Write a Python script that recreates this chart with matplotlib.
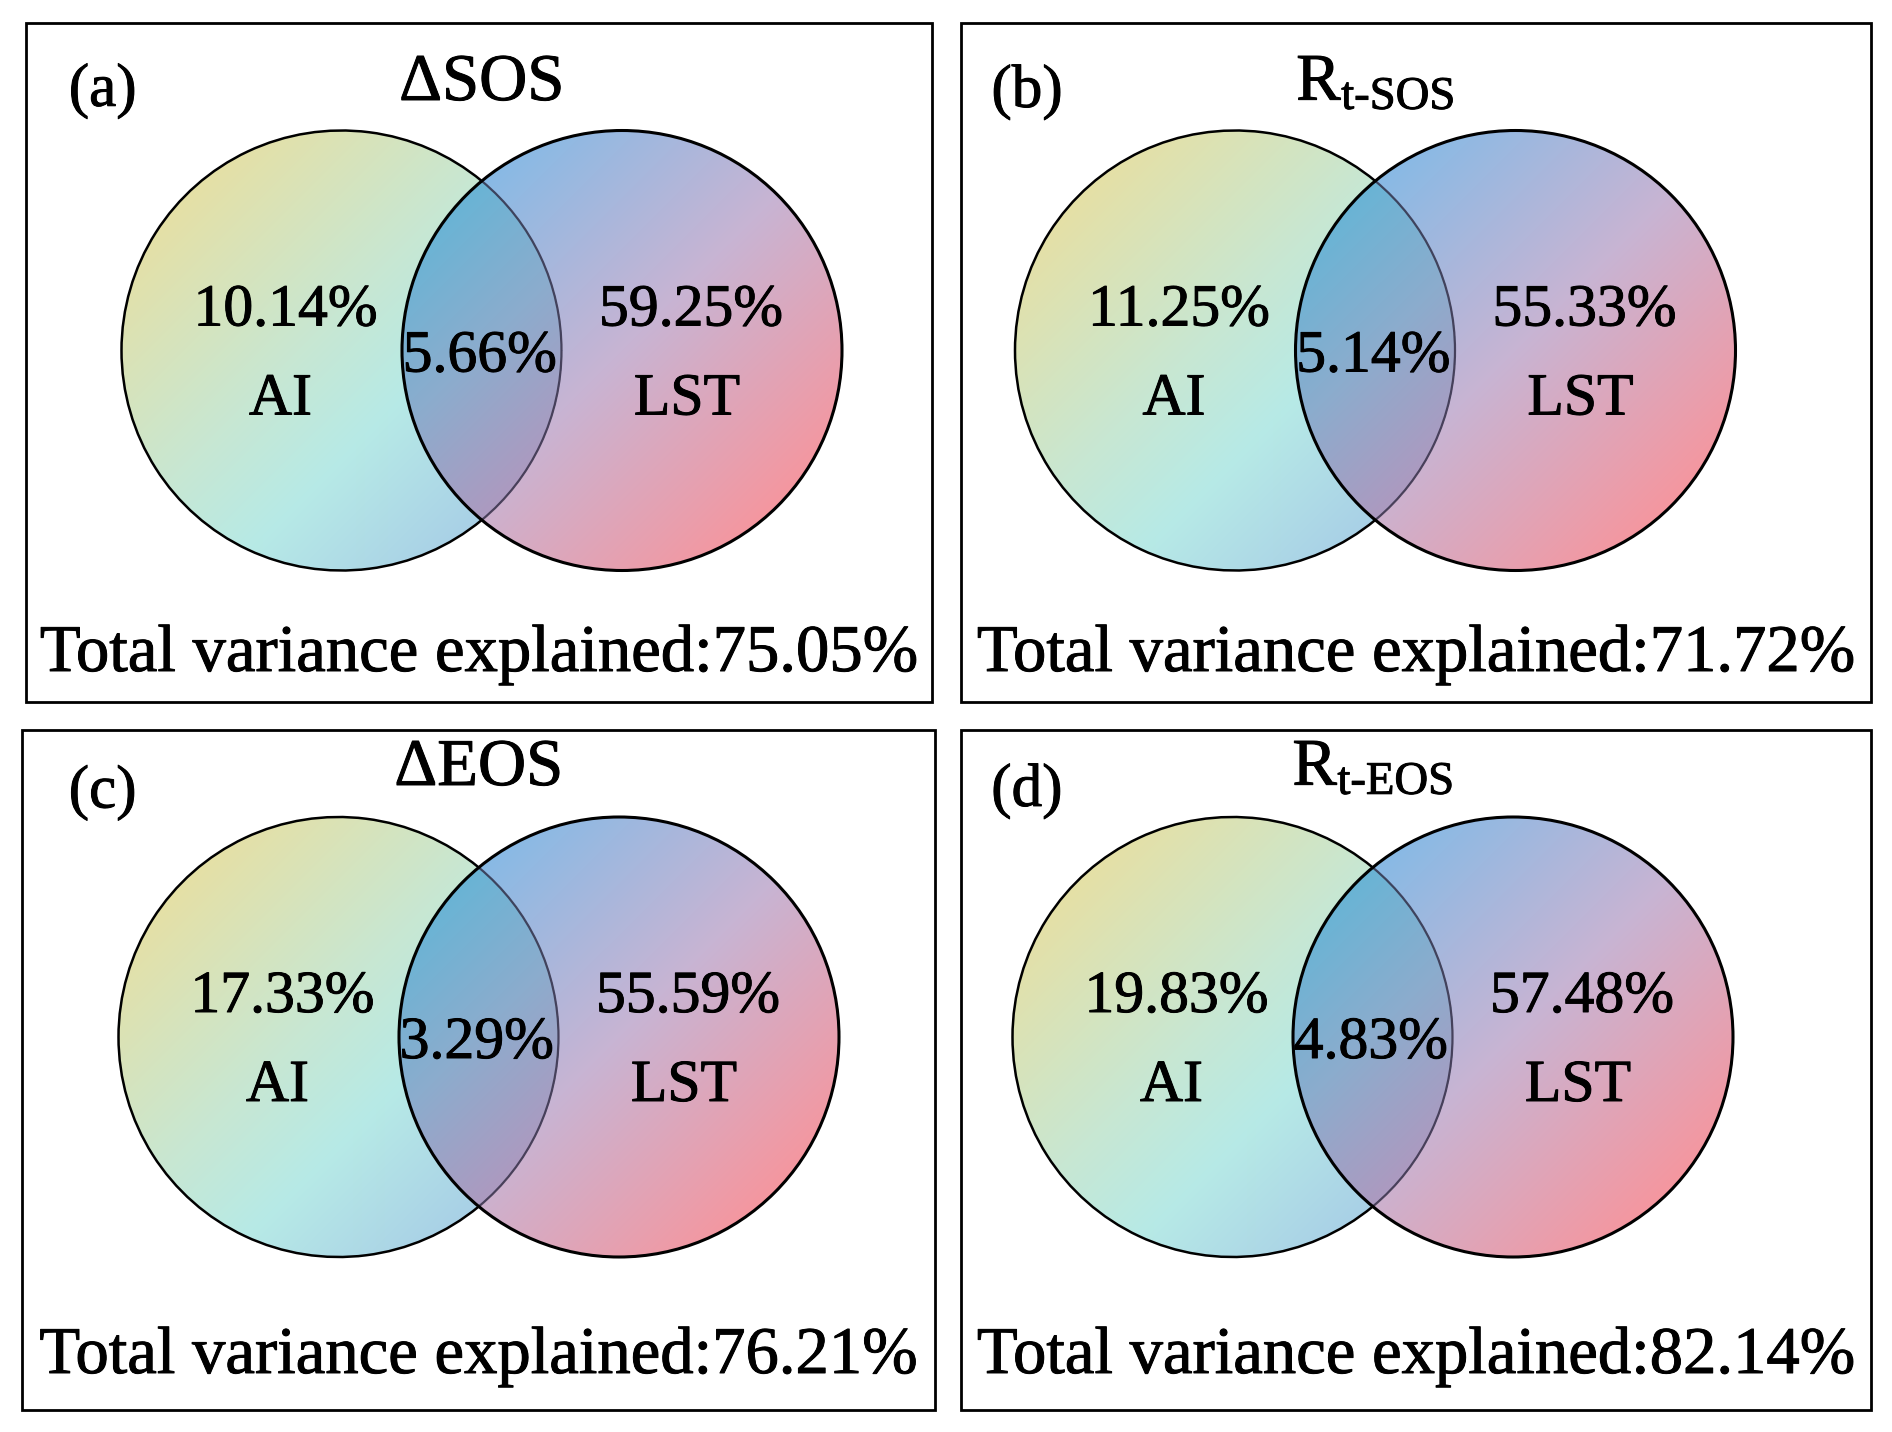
import numpy as np
import matplotlib
matplotlib.use("Agg")
import matplotlib.pyplot as plt
import matplotlib.patheffects as pe
from matplotlib.patches import Circle, Arc, Rectangle

plt.rcParams['font.family'] = ['Liberation Serif', 'DejaVu Serif']
plt.rcParams['mathtext.fontset'] = 'custom'
plt.rcParams['mathtext.rm'] = 'Liberation Serif'
plt.rcParams['mathtext.it'] = 'Liberation Serif:italic'

# Variance partitioning results (AI vs LST)
panel_tags = ['(a)', '(b)', '(c)', '(d)']
titles = ['ΔSOS', r'R$_{\text{t-SOS}}$', 'ΔEOS', r'R$_{\text{t-EOS}}$']
set_names = ['AI', 'LST']
ai_only = [10.14, 11.25, 17.33, 19.83]
shared = [5.66, 5.14, 3.29, 4.83]
lst_only = [59.25, 55.33, 55.59, 57.48]
total = [75.05, 71.72, 76.21, 82.14]

# layout in pixels (figure is 1892 x 1432)
W, H = 1892, 1432
boxes = [(25.5, 22.5, 932, 702), (960.5, 22.5, 1871, 702),
         (22, 729.5, 934.5, 1410), (960.5, 729.5, 1871, 1410)]
left_centers = [(341.5, 350.5), (1235, 350.5), (338.5, 1037), (1232.5, 1037)]
tag_pos = [(102.6, 91), (1027, 92), (102.6, 792.7), (1026.8, 791)]
title_y = [100, 100, 785, 785]
total_y = [671, 671, 1373, 1373]
radius = 220
dist = 280.5

# gradient stops along the top-left -> bottom-right diagonal of each circle
left_t = [0.15, 0.45, 0.62, 0.86]
left_rgb = np.array([(229, 224, 166), (200, 231, 210), (183, 234, 230), (168, 207, 230)]) / 255
right_t = [0.15, 0.5, 0.86]
right_rgb = np.array([(136, 186, 229), (200, 180, 211), (246, 150, 158)]) / 255
both_t = [0.15, 0.34, 0.53]
both_rgb = np.array([(106, 180, 213), (140, 172, 205), (172, 154, 192)]) / 255


def grad(t, ts, cols):
    return np.stack([np.interp(t, ts, cols[:, k]) for k in range(3)], axis=-1)


def venn_image(cxl, cy):
    cxr = cxl + dist
    x0, x1 = int(cxl - radius - 3), int(cxr + radius + 3)
    y0, y1 = int(cy - radius - 3), int(cy + radius + 3)
    xs = np.arange(x0, x1) + 0.5
    ys = np.arange(y0, y1) + 0.5
    X, Y = np.meshgrid(xs, ys)
    dl = np.hypot(X - cxl, Y - cy)
    dr = np.hypot(X - cxr, Y - cy)
    al = np.clip(radius - dl + 0.5, 0, 1)
    ar = np.clip(radius - dr + 0.5, 0, 1)
    tl = ((X - (cxl - radius)) + (Y - (cy - radius))) / (4 * radius)
    tr = ((X - (cxr - radius)) + (Y - (cy - radius))) / (4 * radius)
    cl = grad(tl, left_t, left_rgb)
    cr = grad(tr, right_t, right_rgb)
    cb = grad(tr, both_t, both_rgb)
    inl = (dl <= radius)[..., None]
    inr = (dr <= radius)[..., None]
    rgb = np.where(inl & inr, cb, np.where(inl, cl, cr))
    alpha = np.maximum(al, ar)
    img = np.dstack([rgb, alpha])
    return img, (x0, x1, y1, y0)


fig = plt.figure(figsize=(W / 100, H / 100), dpi=100)
ax = fig.add_axes([0, 0, 1, 1])

theta = np.degrees(np.arccos((dist / 2) / radius))
heavy = [pe.withStroke(linewidth=0.7, foreground='black')]

for i in range(4):
    bx0, by0, bx1, by1 = boxes[i]
    ax.add_patch(Rectangle((bx0, by0), bx1 - bx0, by1 - by0, fill=False,
                           edgecolor='black', linewidth=2.0, zorder=5))
    cxl, cy = left_centers[i]
    cxr = cxl + dist
    img, ext = venn_image(cxl, cy)
    ax.imshow(img, extent=ext, origin='upper', interpolation='bilinear',
              aspect='auto', zorder=1)
    # left circle: outer arc solid, inner arc darker purple (seen through the right circle)
    ax.add_patch(Arc((cxl, cy), 2 * radius, 2 * radius, theta1=theta, theta2=360 - theta,
                     edgecolor='black', linewidth=1.8, zorder=3))
    ax.add_patch(Arc((cxl, cy), 2 * radius, 2 * radius, theta1=-theta, theta2=theta,
                     edgecolor='#2e2840', alpha=0.8, linewidth=1.6, zorder=3))
    ax.add_patch(Circle((cxr, cy), radius, fill=False, edgecolor='black',
                        linewidth=2.2, zorder=4))

    ax.text(tag_pos[i][0], tag_pos[i][1], panel_tags[i], fontsize=44,
            ha='center', va='center', zorder=6, path_effects=heavy)
    ax.text(cxl + dist / 2, title_y[i], titles[i], fontsize=48,
            ha='center', va='baseline', zorder=6, path_effects=heavy)

    ax.text(cxl - 56, cy - 25, f'{ai_only[i]:.2f}%', fontsize=43,
            ha='center', va='baseline', zorder=6, path_effects=heavy)
    ax.text(cxl - 61, cy + 64, set_names[0], fontsize=43,
            ha='center', va='baseline', zorder=6, path_effects=heavy)
    ax.text(cxl + dist / 2 - 2, cy + 21, f'{shared[i]:.2f}%', fontsize=43,
            ha='center', va='baseline', zorder=6, path_effects=heavy)
    ax.text(cxr + 69, cy - 25, f'{lst_only[i]:.2f}%', fontsize=43,
            ha='center', va='baseline', zorder=6, path_effects=heavy)
    ax.text(cxr + 65, cy + 64, set_names[1], fontsize=43,
            ha='center', va='baseline', zorder=6, path_effects=heavy)

    ax.text((bx0 + bx1) / 2, total_y[i], f'Total variance explained:{total[i]:.2f}%',
            fontsize=48, ha='center', va='baseline', zorder=6, path_effects=heavy)

ax.set_xlim(0, W)
ax.set_ylim(H, 0)
ax.axis('off')

fig.savefig('out.png', dpi=100, facecolor='white')
